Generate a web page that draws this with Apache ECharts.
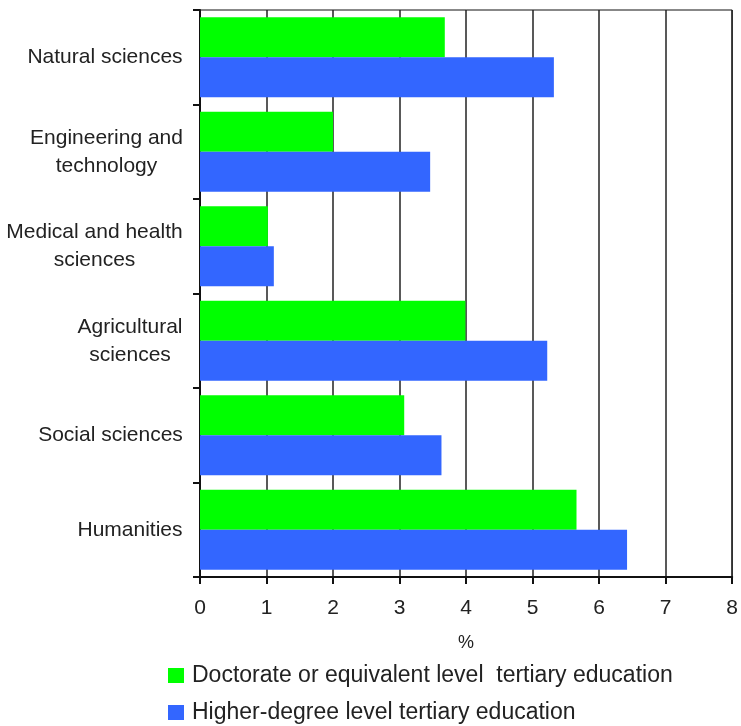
<!DOCTYPE html>
<html>
<head>
<meta charset="utf-8">
<script src="https://cdn.jsdelivr.net/npm/echarts@6/dist/echarts.min.js"></script>
<style>
  html, body { margin: 0; padding: 0; background: #fff; }
  #chart { width: 741px; height: 726px; }
</style>
</head>
<body>
<div id="chart"></div>
<script>
// fields, top to bottom
var categories = [
  "Natural sciences",
  "Engineering and\ntechnology",
  "Medical and health\nsciences",
  "Agricultural\nsciences",
  "Social sciences",
  "Humanities"
];
var seriesNames = [
  "Doctorate or equivalent level  tertiary education",
  "Higher-degree level tertiary education"
];
var doctorate = [3.68, 2.0, 1.02, 3.99, 3.07, 5.66];
var higherDegree = [5.32, 3.46, 1.11, 5.22, 3.63, 6.42];
var xTicks = [0, 1, 2, 3, 4, 5, 6, 7, 8];

var FONT = "Liberation Sans";
var FS = 21;

// multi-line labels are centred inside their own block, single lines go right
var ctx = document.createElement("canvas").getContext("2d");
ctx.font = FS + "px " + FONT;
var rich = {};
categories.forEach(function (c, i) {
  var w = 0;
  c.split("\n").forEach(function (l) { w = Math.max(w, ctx.measureText(l).width); });
  rich["c" + i] = { width: Math.ceil(w), align: "center", fontFamily: FONT, fontSize: FS, color: "#222", lineHeight: 28 };
});

function legendAt(name, top) {
  return {
    orient: "vertical",
    left: 163, top: top,
    itemWidth: 16, itemHeight: 15,
    icon: "rect",
    data: [name],
    textStyle: { fontFamily: FONT, fontSize: 23, color: "#222", padding: [0, 0, 0, 3] }
  };
}

var chart = echarts.init(document.getElementById("chart"));
chart.setOption({
  animation: false,
  textStyle: { fontFamily: FONT },
  grid: {
    left: 200, right: 7, top: 10, bottom: 149,
    show: true, borderColor: "#111", borderWidth: 1, backgroundColor: "transparent"
  },
  legend: [legendAt(seriesNames[0], 659), legendAt(seriesNames[1], 696)],
  xAxis: {
    type: "value",
    min: xTicks[0], max: xTicks[xTicks.length - 1], interval: 1,
    name: "%",
    nameLocation: "middle",
    nameGap: 57,
    nameTextStyle: { fontFamily: FONT, fontSize: 18, color: "#222" },
    axisLine: { show: true, lineStyle: { color: "#111", width: 2 } },
    axisTick: { show: true, length: 7, lineStyle: { color: "#111", width: 2 } },
    axisLabel: { fontFamily: FONT, fontSize: FS, color: "#222", margin: 21 },
    splitLine: { show: true, lineStyle: { color: "#222", width: 1.5 } }
  },
  yAxis: {
    type: "category",
    inverse: true,
    data: categories,
    axisLine: { show: true, lineStyle: { color: "#111", width: 2 } },
    axisTick: { show: true, length: 7, lineStyle: { color: "#111", width: 2 } },
    axisLabel: {
      margin: 17,
      align: "right",
      formatter: function (v, i) {
        return v.split("\n").map(function (l) { return "{c" + i + "|" + l + "}"; }).join("\n");
      },
      rich: rich
    }
  },
  series: [
    {
      name: seriesNames[0], type: "bar", data: doctorate,
      barWidth: 40, barGap: "0%",
      itemStyle: { color: "#00ff00" }
    },
    {
      name: seriesNames[1], type: "bar", data: higherDegree,
      barWidth: 40, barGap: "0%",
      itemStyle: { color: "#3366ff" }
    }
  ]
});
</script>
</body>
</html>
